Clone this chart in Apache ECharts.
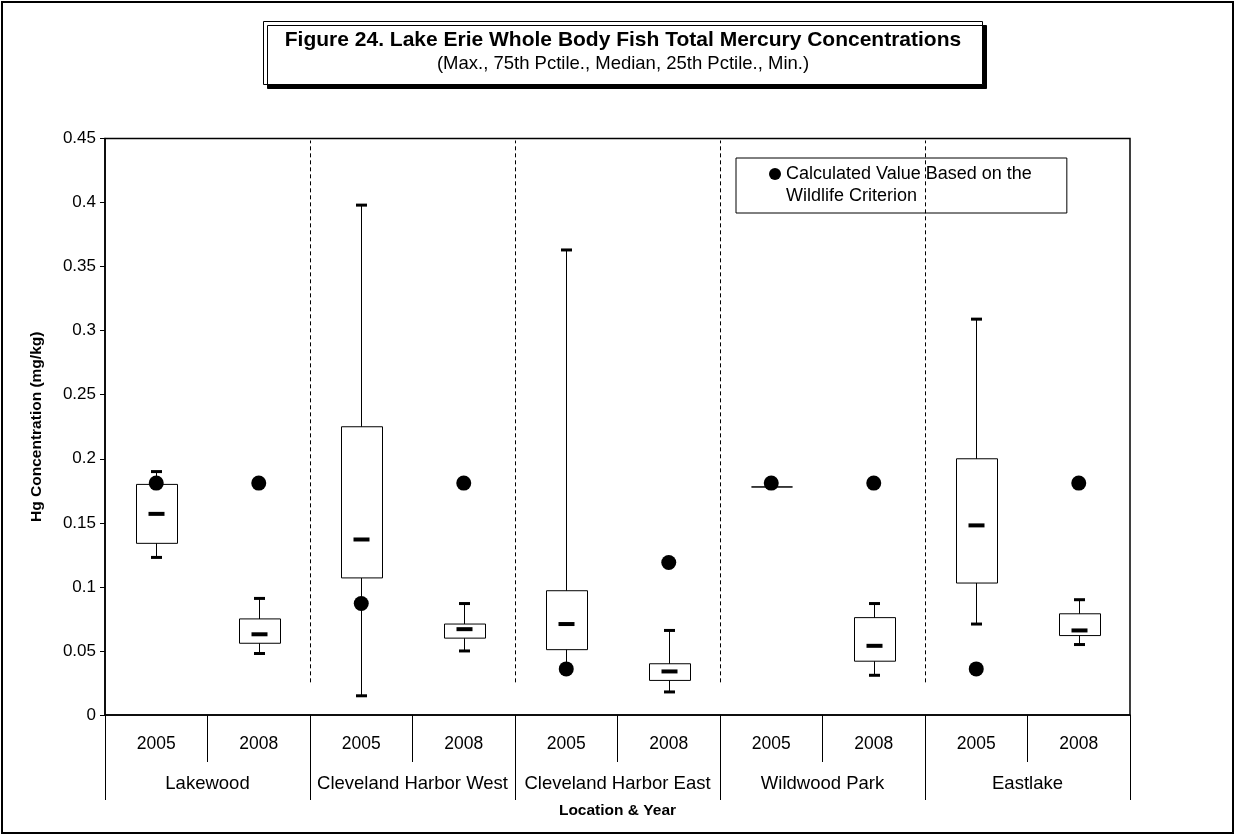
<!DOCTYPE html>
<html>
<head>
<meta charset="utf-8">
<script src="https://cdn.jsdelivr.net/npm/echarts@6/dist/echarts.min.js"></script>
<style>
  html, body { margin: 0; padding: 0; background: #fff; }
  #chart { width: 1236px; height: 836px; }
</style>
</head>
<body>
<div id="chart"></div>
<script>
// ---- data ----
const locations = ['Lakewood', 'Cleveland Harbor West', 'Cleveland Harbor East', 'Wildwood Park', 'Eastlake'];
const years = ['2005', '2008', '2005', '2008', '2005', '2008', '2005', '2008', '2005', '2008'];
const maxVals    = [0.190, 0.091, 0.398, 0.087, 0.363, 0.066, 0.178, 0.087, 0.309, 0.090];
const q3Vals     = [0.180, 0.075, 0.225, 0.071, 0.097, 0.040, 0.178, 0.076, 0.200, 0.079];
const medianVals = [0.157, 0.063, 0.137, 0.067, 0.071, 0.034, 0.178, 0.054, 0.148, 0.066];
const q1Vals     = [0.134, 0.056, 0.107, 0.060, 0.051, 0.027, 0.178, 0.042, 0.103, 0.062];
const minVals    = [0.123, 0.048, 0.015, 0.050, 0.037, 0.018, 0.178, 0.031, 0.071, 0.055];
const wildlifeVals = [0.181, 0.181, 0.087, 0.181, 0.036, 0.119, 0.181, 0.181, 0.036, 0.181];
const separatorAfter = [1, 3, 5, 7];
const separatorLow = 0.0255;
const yMin = 0, yMax = 0.45, yStep = 0.05;

const FONT = '"Liberation Sans", Arial, sans-serif';

const boxData = years.map((y, i) => [i, minVals[i], q1Vals[i], medianVals[i], q3Vals[i], maxVals[i]]);

function renderBox(params, api) {
  const idx = api.value(0);
  const vMin = api.value(1), vMax = api.value(5);
  const pMin = api.coord([idx, vMin]);
  const cx = Math.round(pMin[0]) + 0.5;
  const yMn = pMin[1];
  const yQ1 = api.coord([idx, api.value(2)])[1];
  const yMed = api.coord([idx, api.value(3)])[1];
  const yQ3 = api.coord([idx, api.value(4)])[1];
  const yMx = api.coord([idx, vMax])[1];
  const band = api.size([1, 0])[0];
  const bw = Math.round(band * 0.4);
  const children = [];
  children.push({ type: 'line', shape: { x1: cx, y1: yMn, x2: cx, y2: yMx }, style: { stroke: '#000', lineWidth: 1 } });
  children.push({ type: 'rect', shape: { x: Math.round(cx - bw / 2) + 0.5, y: yQ3, width: bw, height: yQ1 - yQ3 },
                  style: { fill: '#fff', stroke: '#000', lineWidth: 1 } });
  if (vMax > vMin) {
    children.push({ type: 'rect', shape: { x: cx - 5.5, y: yMx - 1.5, width: 11, height: 3 }, style: { fill: '#000' } });
    children.push({ type: 'rect', shape: { x: cx - 5.5, y: yMn - 1.5, width: 11, height: 3 }, style: { fill: '#000' } });
    children.push({ type: 'rect', shape: { x: cx - 8, y: yMed - 2, width: 16, height: 4 }, style: { fill: '#000' } });
  }
  return { type: 'group', children };
}

function renderSep(params, api) {
  const idx = api.value(0);
  const band = api.size([1, 0])[0];
  const pLow = api.coord([idx, separatorLow]);
  const pTop = api.coord([idx, yMax]);
  const x = Math.round(pLow[0] + band / 2) + 0.5;
  return { type: 'line', shape: { x1: x, y1: pLow[1], x2: x, y2: pTop[1] + 2 },
           style: { stroke: '#000', lineWidth: 1, lineDash: [4, 3] } };
}

const chart = echarts.init(document.getElementById('chart'), null, { renderer: 'canvas' });
chart.setOption({
  backgroundColor: '#fff',
  animation: false,
  textStyle: { fontFamily: FONT, color: '#000' },
  title: {
    text: 'Figure 24. Lake Erie Whole Body Fish Total Mercury Concentrations',
    subtext: '(Max., 75th Pctile., Median, 25th Pctile., Min.)',
    left: 601,
    top: 21,
    padding: [6, 22, 10, 22],
    itemGap: 0,
    backgroundColor: '#fff',
    borderColor: '#000',
    borderWidth: 1,
    shadowColor: '#000',
    shadowBlur: 0,
    shadowOffsetX: 4,
    shadowOffsetY: 4,
    textAlign: 'center',
    textStyle: { fontFamily: FONT, fontSize: 21, lineHeight: 26, fontWeight: 'bold', color: '#000' },
    subtextStyle: { fontFamily: FONT, fontSize: 18.5, lineHeight: 22, color: '#000' }
  },
  legend: {
    left: 736,
    top: 158,
    orient: 'vertical',
    selectedMode: false,
    padding: [5, 35, 28, 33],
    itemWidth: 12,
    itemHeight: 12,
    borderColor: '#000',
    borderWidth: 1,
    data: [{ name: 'Calculated Value Based on the Wildlife Criterion', icon: 'circle' }],
    formatter: () => 'Calculated Value Based on the',
    textStyle: { fontFamily: FONT, fontSize: 18, lineHeight: 22, color: '#000' }
  },
  graphic: [
    { type: 'rect', shape: { x: 2, y: 2, width: 1231, height: 831 }, style: { fill: 'none', stroke: '#000', lineWidth: 2 }, silent: true },
    { type: 'text', x: 786, y: 196, style: { text: 'Wildlife Criterion', font: '18px ' + FONT, fill: '#000', verticalAlign: 'middle' }, silent: true }
  ],
  grid: {
    left: 105, right: 106, top: 138.5, bottom: 121,
    show: true, borderColor: '#000', borderWidth: 1.5, backgroundColor: 'transparent',
    containLabel: false
  },
  xAxis: [
    {
      type: 'category', data: years, position: 'bottom', boundaryGap: true,
      axisLine: { show: true, lineStyle: { color: '#000', width: 1.5 } },
      axisTick: { show: true, interval: 0, length: 47, lineStyle: { color: '#000', width: 1 } },
      axisLabel: { interval: 0, margin: 20, fontSize: 17.5, color: '#000', fontFamily: FONT },
      splitLine: { show: false }
    },
    {
      type: 'category', data: locations, position: 'bottom', boundaryGap: true,
      axisLine: { show: false },
      axisTick: { show: true, interval: 0, length: 85, lineStyle: { color: '#000', width: 1 } },
      axisLabel: { interval: 0, margin: 59, fontSize: 18.5, color: '#000', fontFamily: FONT },
      splitLine: { show: false },
      name: 'Location & Year', nameLocation: 'middle', nameGap: 88,
      nameTextStyle: { fontFamily: FONT, fontSize: 15.5, fontWeight: 'bold', color: '#000' }
    }
  ],
  yAxis: {
    type: 'value', min: yMin, max: yMax, interval: yStep,
    axisLine: { show: true, lineStyle: { color: '#000', width: 1.5 } },
    axisTick: { show: true, length: 5, lineStyle: { color: '#000' } },
    axisLabel: { margin: 9, fontSize: 17, color: '#000', fontFamily: FONT,
                 formatter: v => String(+v.toFixed(2)) },
    splitLine: { show: false },
    name: 'Hg Concentration (mg/kg)', nameLocation: 'middle', nameGap: 60,
    nameTextStyle: { fontFamily: FONT, fontSize: 15.5, fontWeight: 'bold', color: '#000' }
  },
  series: [
    {
      type: 'custom', name: 'separators', xAxisIndex: 0, yAxisIndex: 0,
      data: separatorAfter.map(i => [i]), encode: { x: 0 },
      renderItem: renderSep, silent: true, z: 1
    },
    {
      type: 'custom', name: 'boxes', xAxisIndex: 0, yAxisIndex: 0,
      data: boxData, encode: { x: 0, y: [1, 2, 3, 4, 5] },
      renderItem: renderBox, silent: true, z: 2
    },
    {
      type: 'scatter', name: 'Calculated Value Based on the Wildlife Criterion',
      xAxisIndex: 0, yAxisIndex: 0,
      data: wildlifeVals.map((v, i) => [i, v]),
      symbol: 'circle', symbolSize: 15,
      itemStyle: { color: '#000', opacity: 1 }, z: 3, silent: true
    }
  ]
});
</script>
</body>
</html>
